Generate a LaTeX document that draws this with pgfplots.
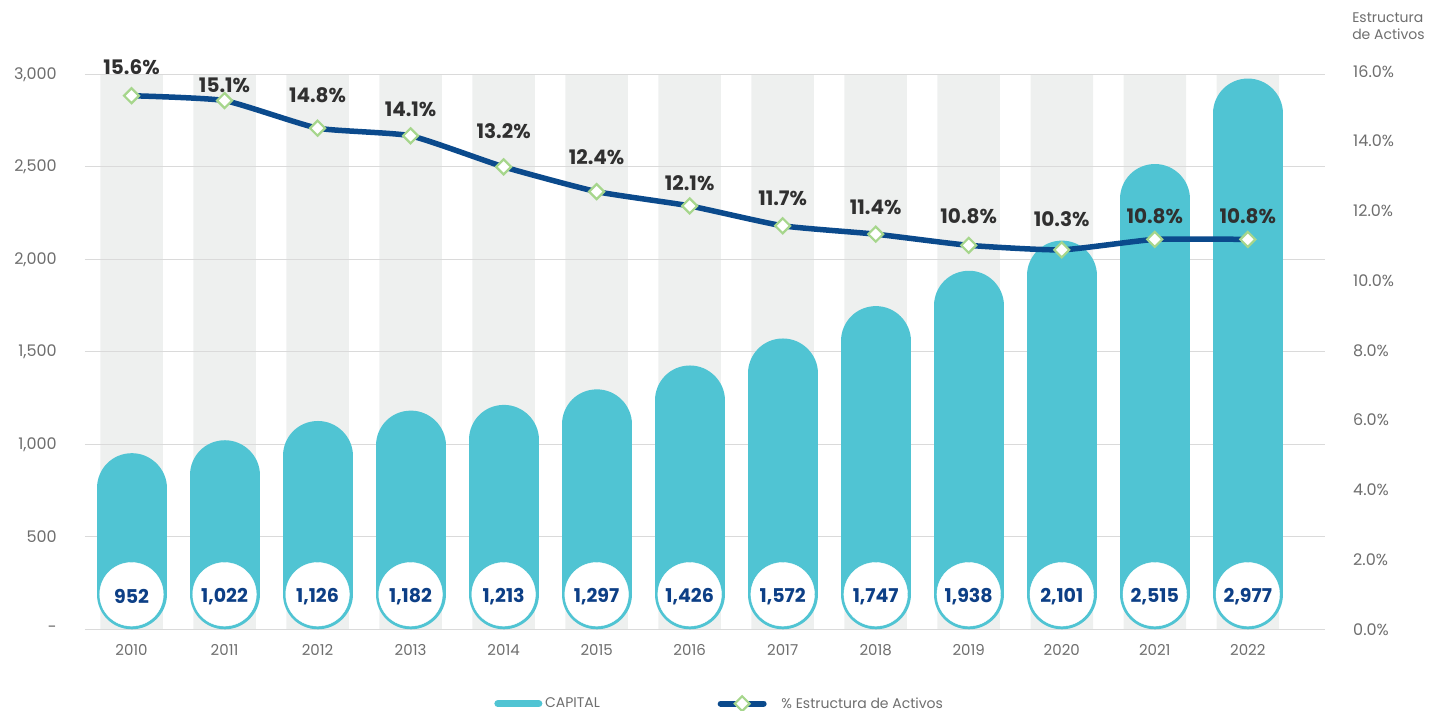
\documentclass[border=0pt]{standalone}
\usepackage{pgfplots}
\pgfplotsset{compat=1.18}
\usepackage{pgfplotstable}
\usepackage{fontspec}
\setmainfont{Poppins}
\definecolor{capc}{HTML}{50C4D3}
\definecolor{bandc}{HTML}{EEF0EF}
\definecolor{gridc}{HTML}{DADADA}
\definecolor{navyc}{HTML}{0B4A8C}
\definecolor{numblue}{HTML}{0D3F86}
\definecolor{dgreen}{HTML}{A6D68C}
\definecolor{tickc}{HTML}{6E6E6E}
\definecolor{labc}{HTML}{303030}

\pgfplotstableread{
x cap caplab
0 952 952
1 1022 1,022
2 1126 1,126
3 1182 1,182
4 1213 1,213
5 1297 1,297
6 1426 1,426
7 1572 1,572
8 1747 1,747
9 1938 1,938
10 2101 2,101
11 2515 2,515
12 2977 2,977
}\captable

\pgfplotstableread{
x pct lab dy
0 15.30 15.6 21.7
1 15.16 15.1 8.4
2 14.37 14.8 25.6
3 14.15 14.1 19
4 13.26 13.2 28.4
5 12.55 12.4 26.7
6 12.14 12.1 15.3
7 11.57 11.7 20
8 11.33 11.4 20
9 11.01 10.8 22
10 10.88 10.3 23
11 11.18 10.8 16.3
12 11.18 10.8 16.3
}\pcttable

\begin{document}
\begin{tikzpicture}
\useasboundingbox (-85pt,-81.7pt) rectangle (1352pt,629.3pt);
\begin{axis}[
  at={(0pt,0pt)}, anchor=south west,
  scale only axis, width=1240pt, height=555pt,
  xmin=-0.5, xmax=12.83, ymin=0, ymax=3000,
  clip=false,
  axis x line*=bottom, axis y line*=left,
  axis line style={draw=none},
  tick style={draw=none}, major tick length=0pt,
  xtick={0,1,2,3,4,5,6,7,8,9,10,11,12},
  xticklabels={2010,2011,2012,2013,2014,2015,2016,2017,2018,2019,2020,2021,2022},
  ytick={0,500,1000,1500,2000,2500,3000},
  yticklabels={-,500,{1,000},{1,500},{2,000},{2,500},{3,000}},
  xticklabel style={anchor=north, inner sep=0pt, yshift=-15pt, font=\fontsize{15}{17}\selectfont, text=tickc},
  yticklabel style={anchor=east, inner sep=0pt, xshift=-28pt, font=\fontsize{16}{18}\selectfont, text=tickc},
]
% grey background bands
\addplot[ybar, bar width=62.5pt, bar shift=0pt, fill=bandc, draw=none]
  coordinates {(0,3000) (1,3000) (2,3000) (3,3000) (4,3000) (5,3000) (6,3000) (7,3000) (8,3000) (9,3000) (10,3000) (11,3000) (12,3000)};
\pgfplotsinvokeforeach{0,500,1000,1500,2000,2500,3000}{
  \draw[gridc, line width=1.3pt] (axis cs:-0.5,#1) -- (axis cs:12.83,#1);
}
% pill-shaped bars: thick round-capped stroke from bottom circle centre to top circle centre
\addplot[draw=none, mark=none,
  error bars/.cd, y dir=minus, y explicit, error mark=none,
  error bar style={draw=capc, line width=70pt, line cap=round, solid}]
  table[x=x, y expr=\thisrow{cap}-189.2, y error expr=\thisrow{cap}-378.4] {\captable};
% white discs with the values
\addplot[only marks, color=white, mark=*, mark size=31.8pt,
  mark options={fill=white, draw=white},
  nodes near coords, point meta=explicit symbolic,
  nodes near coords style={anchor=center, inner sep=0pt, yshift=-2pt, font=\fontsize{19}{21}\selectfont\bfseries, text=numblue}]
  table[x=x, y expr=189.2, meta=caplab] {\captable};
\end{axis}

\begin{axis}[
  at={(0pt,0pt)}, anchor=south west,
  scale only axis, width=1240pt, height=558pt,
  xmin=-0.5, xmax=12.83, ymin=0, ymax=16,
  clip=false,
  axis x line=none, axis y line*=right,
  axis line style={draw=none},
  tick style={draw=none}, major tick length=0pt,
  xtick=\empty,
  ytick={0,2,4,6,8,10,12,14,16},
  yticklabels={0.0\%,2.0\%,4.0\%,6.0\%,8.0\%,10.0\%,12.0\%,14.0\%,16.0\%},
  yticklabel style={anchor=west, inner sep=0pt, xshift=28pt, font=\fontsize{16}{18}\selectfont, text=tickc},
  legend columns=2,
  legend style={at={(0.3298,-0.1333)}, anchor=west, draw=none, fill=none, inner sep=0pt,
    font=\fontsize{14}{16}\selectfont, text=tickc,
    /tikz/every even column/.append style={column sep=113pt}},
]
\addlegendimage{legend image code/.code={\draw[capc, line width=7pt, line cap=round] (3.5pt,0pt) -- (44.5pt,0pt); \path (0pt,0pt) (48.5pt,0pt);}}
\addlegendentry{CAPITAL}
\addplot[navyc, line width=5.5pt, smooth, tension=0.3,
  mark=square*, mark size=5.3pt,
  mark options={rotate=45, fill=white, draw=dgreen, line width=2.2pt, solid},
  visualization depends on={\thisrow{dy}\as\dy},
  nodes near coords={\pgfplotspointmeta\%}, point meta=explicit symbolic,
  every node near coord/.style={anchor=base, yshift=\dy pt, font=\fontsize{20}{22}\selectfont\bfseries, text=labc},
  legend image code/.code={
    \draw[navyc, line width=6pt, line cap=round] (3pt,0pt) -- (46pt,0pt);
    \path (0pt,0pt) (59pt,0pt);
    \node[draw=dgreen, fill=white, line width=2.2pt, minimum size=10.5pt, inner sep=0pt, rotate=45] at (24.5pt,0pt) {};
  }]
  table[x=x, y=pct, meta=lab] {\pcttable};
\addlegendentry{\% Estructura de Activos}
\node[anchor=north west, align=left, font=\fontsize{14}{17}\selectfont, text=tickc, inner sep=0pt]
  at (rel axis cs:1.0218,1.1045) {Estructura\\de Activos};
\end{axis}
\end{tikzpicture}
\end{document}
